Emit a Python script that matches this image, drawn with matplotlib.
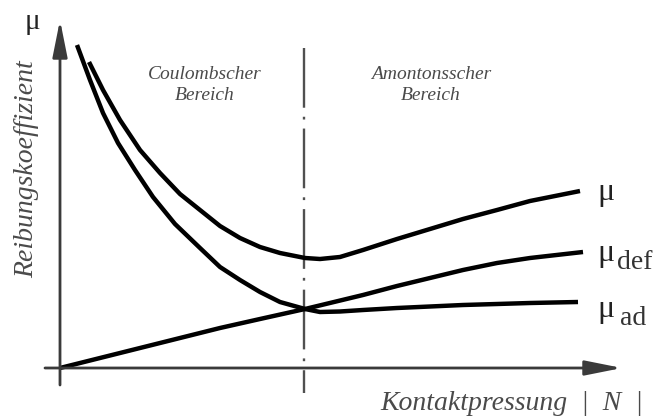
import numpy as np
import matplotlib.pyplot as plt

plt.rcParams['lines.scale_dashes'] = False

# friction coefficient curves (schematic units: pressure, mu)
mu_x = [0.29, 0.43, 0.60, 0.80, 1.00, 1.20, 1.40, 1.60, 1.80, 2.00, 2.20,
        2.45, 2.60, 2.80, 3.03, 3.37, 3.70, 4.03, 4.37, 4.70, 5.20]
mu_y = [3.06, 2.78, 2.48, 2.18, 1.95, 1.74, 1.58, 1.42, 1.30, 1.21, 1.15,
        1.10, 1.09, 1.11, 1.18, 1.29, 1.39, 1.49, 1.58, 1.67, 1.77]

mu_def_x = [0.00, 1.60, 2.00, 2.45, 3.03, 3.37, 3.70, 4.03, 4.37, 4.70, 5.23]
mu_def_y = [0.00, 0.40, 0.49, 0.59, 0.73, 0.82, 0.90, 0.98, 1.05, 1.10, 1.16]

mu_ad_x = [0.17, 0.30, 0.43, 0.58, 0.75, 0.93, 1.15, 1.40, 1.60, 1.80, 2.00,
           2.20, 2.45, 2.60, 2.80, 3.03, 3.37, 3.70, 4.03, 4.37, 4.70, 5.18]
mu_ad_y = [3.23, 2.88, 2.55, 2.25, 1.98, 1.71, 1.44, 1.20, 1.01, 0.88, 0.76,
           0.66, 0.59, 0.56, 0.565, 0.58, 0.60, 0.615, 0.63, 0.64, 0.65, 0.66]

# boundary between Coulomb and Amontons regime
p_boundary = 2.44

region_labels = ['Coulombscher\nBereich', 'Amontonsscher\nBereich']
curve_labels = ['μ', 'μ', 'μ']
curve_subs = ['', 'def', 'ad']

fig = plt.figure(figsize=(6.58, 4.19), dpi=100)
ax = fig.add_axes([0, 0, 1, 1])
ax.set_xlim(-0.60, 5.98)
ax.set_ylim(-0.51, 3.68)
ax.axis('off')

axis_col = '#3a3a3a'
text_col = '#4a4a4a'
serif = 'Liberation Serif'

# axes with arrow heads
arrow = dict(arrowstyle='-|>,head_length=1.5,head_width=0.3', mutation_scale=15,
             lw=2.0, color=axis_col, shrinkA=0, shrinkB=0)
ax.annotate('', xy=(0, 3.48), xytext=(0, -0.17), arrowprops=arrow)
ax.annotate('', xy=(5.62, 0), xytext=(-0.15, 0), arrowprops=arrow)

# regime boundary
ax.plot([p_boundary, p_boundary], [3.20, -0.25], color='#505050', lw=1.7,
        linestyle=(0, (43, 6.5, 2, 6.5)))

for xs, ys in [(mu_x, mu_y), (mu_def_x, mu_def_y), (mu_ad_x, mu_ad_y)]:
    ax.plot(xs, ys, color='black', lw=3.2, solid_capstyle='butt', solid_joinstyle='round')

# labels
ax.text(-0.28, 3.46, 'μ', fontsize=21, family=serif, ha='center', va='center', color='#222222')
ax.text(-0.33, 1.99, 'Reibungskoeffizient', fontsize=20, family=serif, style='italic',
        rotation=90, ha='center', va='center', color=text_col)
ax.text(3.20, -0.35, 'Kontaktpressung  |  N  |', fontsize=20, family=serif, style='italic',
        ha='left', va='center', color=text_col)

ax.text(1.45, 2.83, region_labels[0], fontsize=14, family=serif, style='italic',
        ha='center', va='center', multialignment='center', linespacing=1.3, color=text_col)
ax.text(3.71, 2.83, region_labels[1], fontsize=14, family=serif, style='italic',
        ha='center', va='center', multialignment='center', linespacing=1.3, color=text_col)

label_y = [mu_y[-1] - 0.09, mu_def_y[-1] - 0.09, mu_ad_y[-1] - 0.15]
sub_x = [5.57, 5.57, 5.60]
for lab, sub, ly, sx in zip(curve_labels, curve_subs, label_y, sub_x):
    ax.text(5.37, ly, lab, fontsize=23, family=serif, ha='left', va='baseline', color='#222222')
    if sub:
        ax.text(sx, ly - 0.08, sub, fontsize=20, family=serif, ha='left', va='baseline',
                color='#333333')

fig.savefig('out.png', dpi=100)
